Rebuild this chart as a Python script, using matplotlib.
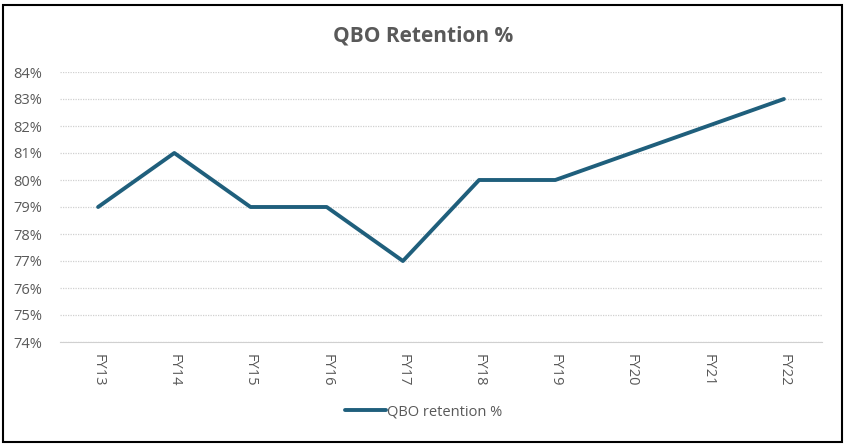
import matplotlib
matplotlib.use('Agg')
import matplotlib.pyplot as plt
from matplotlib.patches import Rectangle
from matplotlib.ticker import FuncFormatter

years = ['FY13', 'FY14', 'FY15', 'FY16', 'FY17', 'FY18', 'FY19', 'FY20', 'FY21', 'FY22']
retention = [79, 81, 79, 79, 77, 80, 80, 81, 82, 83]

plt.rcParams['font.family'] = ['Open Sans', 'DejaVu Sans']

fig = plt.figure(figsize=(8.47, 4.47), dpi=100)
ax = fig.add_axes([60 / 847, 1 - 342 / 447, (822 - 60) / 847, (342 - 72) / 447])

x = range(len(years))
ax.plot(x, retention, color='#1F5F7C', linewidth=2.8, solid_capstyle='round',
        solid_joinstyle='round', label='QBO retention %')

ax.set_xlim(-0.5, len(years) - 0.5)
ax.set_ylim(74, 84)
ax.set_yticks(range(74, 85))
ax.yaxis.set_major_formatter(FuncFormatter(lambda v, p: f'{v:.0f}%'))
ax.set_xticks(list(x))
ax.set_xticklabels(years, rotation=270)

ax.grid(axis='y', color='#D0D0D0', linestyle=(0, (1, 1)), linewidth=0.9)
ax.set_axisbelow(True)
for side in ['top', 'right', 'left']:
    ax.spines[side].set_visible(False)
ax.spines['bottom'].set_color('#D0D0D0')
ax.tick_params(axis='both', length=0, colors='#595959', labelsize=10.5)
ax.tick_params(axis='x', pad=9)
ax.tick_params(axis='y', pad=13)

fig.text(0.5, 1 - 36 / 447, 'QBO Retention %', ha='center', va='center',
         fontsize=15, fontweight='bold', color='#595959')

leg = fig.legend(loc='center', bbox_to_anchor=(0.5, 1 - 412 / 447), frameon=False,
                 fontsize=10.5, handlelength=2.8, handletextpad=0.1)
for t in leg.get_texts():
    t.set_color('#595959')

fig.patches.append(Rectangle((3 / 847, 1 - 442 / 447), 839 / 847, 437 / 447,
                             transform=fig.transFigure, fill=False,
                             edgecolor='black', linewidth=1.5))

plt.savefig('out.png', dpi=100)
